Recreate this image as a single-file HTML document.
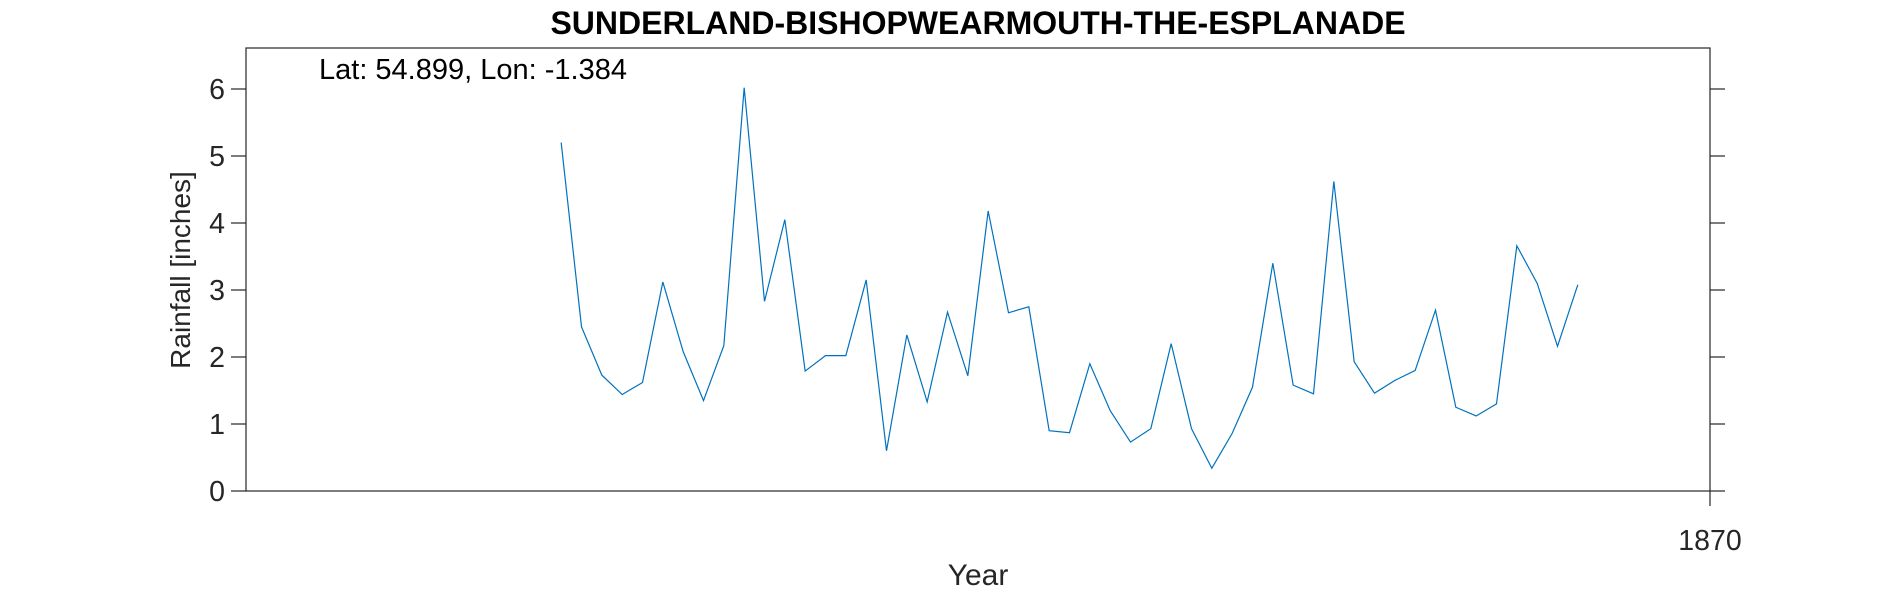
<!DOCTYPE html>
<html><head><meta charset="utf-8"><style>
body{margin:0;background:#fff}
svg{display:block;font-family:"Liberation Sans",Arial,sans-serif}
</style></head><body>
<svg id="chart" width="1890" height="591" viewBox="0 0 1890 591">
<text x="978" y="34" text-anchor="middle" font-size="32" font-weight="bold" fill="#000">SUNDERLAND-BISHOPWEARMOUTH-THE-ESPLANADE</text>
<rect x="246" y="48" width="1464" height="443" fill="none" stroke="#262626" stroke-width="1.2"/>
<text x="319" y="79" font-size="29" fill="#000">Lat: 54.899, Lon: -1.384</text>
<text transform="translate(190,270) rotate(-90)" text-anchor="middle" font-size="28" fill="#262626">Rainfall [inches]</text>
<text x="978" y="585" text-anchor="middle" font-size="30" fill="#262626">Year</text>
<g id="yticks"></g><g id="xticks"></g>
<path id="series" fill="none" stroke="#0072BD" stroke-width="1.2"/>
</svg>
<script>
const yTicks=[0,1,2,3,4,5,6];
const xTicks=[1870];
const startYear=1865, startMonth=3.5;
const rainfall=[5.2,2.45,1.73,1.44,1.62,3.12,2.08,1.35,2.17,6.02,2.83,4.05,1.79,2.02,2.02,3.15,0.6,2.33,1.33,2.67,1.72,4.18,2.66,2.75,0.9,0.87,1.9,1.2,0.73,0.93,2.2,0.93,0.34,0.86,1.55,3.4,1.58,1.45,4.62,1.93,1.46,1.65,1.8,2.7,1.25,1.12,1.3,3.66,3.1,2.16,3.08];
const X0=246,X1=1710,XMIN=1864,XMAX=1870,Y0=491,YUNIT=67;
const xs=t=>X0+(t-XMIN)/(XMAX-XMIN)*(X1-X0);
const ys=v=>Y0-v*YUNIT;
const NS='http://www.w3.org/2000/svg';
const yg=document.getElementById('yticks'), xg=document.getElementById('xticks');
function mk(tag,attrs,parent){const e=document.createElementNS(NS,tag);for(const k in attrs)e.setAttribute(k,attrs[k]);parent.appendChild(e);return e;}
yTicks.forEach(v=>{
  const y=ys(v);
  const l=mk('line',{x1:X0-15,x2:X0,y1:y,y2:y,stroke:'#262626','stroke-width':1.2},yg);
  
  
  const r=mk('line',{x1:X1,x2:X1+15,y1:y,y2:y,stroke:'#262626','stroke-width':1.2},yg);
  
  
  const t=mk('text',{x:X0-21,y:y+10,'text-anchor':'end','font-size':28.5,fill:'#262626'},yg);
  t.textContent=v;
  
  
});
xTicks.forEach(v=>{
  const x=xs(v);
  const l=mk('line',{x1:x,x2:x,y1:Y0,y2:Y0+15,stroke:'#262626','stroke-width':1.2},xg);
  
  
  const t=mk('text',{x:x,y:550,'text-anchor':'middle','font-size':28.5,fill:'#262626'},xg);
  t.textContent=v;
  
  
});
document.getElementById('series').setAttribute('d',rainfall.map((v,i)=>(i?'L':'M')+xs(startYear+(startMonth+i)/12).toFixed(2)+','+ys(v).toFixed(2)).join(' '));
</script>
</body></html>
